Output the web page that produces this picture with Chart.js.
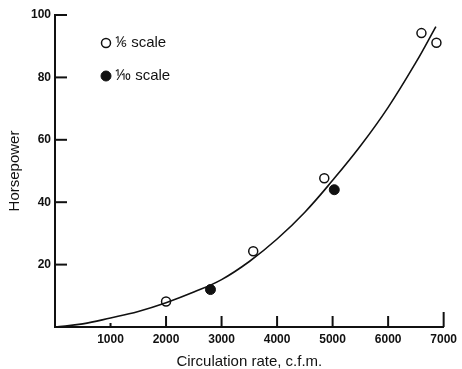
<!DOCTYPE html>
<html>
<head>
<meta charset="utf-8">
<script src="https://cdn.jsdelivr.net/npm/chart.js@4"></script>
<style>
  html, body { margin: 0; padding: 0; background: #fff; }
  #wrap { width: 462px; height: 369px; }
</style>
</head>
<body>
<div id="wrap"><canvas id="grafico"></canvas></div>
<script>
// curva ajustada
const curvaCaudal = [0, 500, 1000, 1500, 2000, 2500, 3000, 3500, 4000, 4500, 5000, 5500, 6000, 6500, 6860];
const curvaHp = [0, 1.0, 2.9, 5.0, 7.8, 11.2, 15.2, 21.0, 28.2, 36.8, 47.0, 58.0, 70.4, 84.8, 96.3];

// 1/6 scale (circulos abiertos)
const sextoCaudal = [2000, 3570, 4850, 6600, 6870];
const sextoHp = [8.2, 24.3, 47.7, 94.2, 91.1];

// 1/10 scale (circulos llenos)
const decimoCaudal = [2800, 5030];
const decimoHp = [12.0, 44.0];

const ticksX = [1000, 2000, 3000, 4000, 5000, 6000, 7000];
const ticksY = [20, 40, 60, 80, 100];

const nombres = ['\u2159 scale', '\u2152 scale'];

const tinta = '#111';
const fuente = '"Liberation Sans", Arial, sans-serif';

// marcas de los ejes hacia adentro
const marcasEjes = {
    id: 'marcasEjes',
    afterDraw(chart) {
        const ctx = chart.ctx;
        const x = chart.scales.x;
        const y = chart.scales.y;
        ctx.save();
        ctx.strokeStyle = tinta;
        ctx.lineWidth = 2;
        ticksX.forEach(v => {
            const px = x.getPixelForValue(v);
            const largo = v === 1000 ? 4 : (v === 7000 ? 15 : 11);
            ctx.beginPath();
            ctx.moveTo(px, y.bottom);
            ctx.lineTo(px, y.bottom - largo);
            ctx.stroke();
        });
        ticksY.forEach(v => {
            const py = y.getPixelForValue(v);
            ctx.beginPath();
            ctx.moveTo(x.left, py);
            ctx.lineTo(x.left + 12, py);
            ctx.stroke();
        });
        ctx.restore();
    }
};

// leyenda dentro del area
const leyenda = {
    id: 'leyenda',
    afterDraw(chart) {
        const ctx = chart.ctx;
        const a = chart.chartArea;
        const sets = [chart.data.datasets[1], chart.data.datasets[2]];
        ctx.save();
        sets.forEach((ds, i) => {
            const cx = a.left + 51;
            const cy = a.top + 28 + i * 33;
            ctx.beginPath();
            ctx.arc(cx, cy, ds.pointRadius, 0, Math.PI * 2);
            ctx.fillStyle = ds.backgroundColor;
            ctx.fill();
            ctx.lineWidth = ds.borderWidth;
            ctx.strokeStyle = ds.borderColor;
            ctx.stroke();
            ctx.fillStyle = tinta;
            ctx.font = '15px ' + fuente;
            ctx.textBaseline = 'middle';
            ctx.textAlign = 'left';
            ctx.fillText(nombres[i], cx + 9, cy);
        });
        ctx.restore();
    }
};

const ctx = document.getElementById('grafico').getContext('2d');
const grafico = new Chart(ctx, {
    type: 'scatter',
    data: {
        datasets: [
            {
                type: 'line',
                label: 'curva',
                data: curvaCaudal.map((c, i) => ({ x: c, y: curvaHp[i] })),
                borderColor: tinta,
                borderWidth: 1.6,
                pointRadius: 0,
                fill: false,
                tension: 0.4
            },
            {
                label: nombres[0],
                data: sextoCaudal.map((c, i) => ({ x: c, y: sextoHp[i] })),
                backgroundColor: '#fff',
                borderColor: tinta,
                borderWidth: 1.5,
                pointRadius: 4.5
            },
            {
                label: nombres[1],
                data: decimoCaudal.map((c, i) => ({ x: c, y: decimoHp[i] })),
                backgroundColor: tinta,
                borderColor: tinta,
                borderWidth: 1,
                pointRadius: 5
            }
        ]
    },
    options: {
        responsive: true,
        maintainAspectRatio: false,
        animation: false,
        layout: { padding: { top: 15, right: 15, bottom: 0, left: 0 } },
        plugins: {
            legend: { display: false },
            tooltip: { enabled: false }
        },
        scales: {
            x: {
                type: 'linear',
                min: 0,
                max: 7000,
                afterFit: (s) => { s.height = 42; },
                grid: { display: false, drawTicks: false },
                border: { display: true, color: tinta, width: 2 },
                ticks: {
                    stepSize: 1000,
                    padding: 5,
                    color: tinta,
                    font: { family: fuente, size: 12, weight: 'bold' },
                    callback: (v) => v === 0 ? '' : v
                },
                title: {
                    display: true,
                    text: 'Circulation rate, c.f.m.',
                    color: tinta,
                    padding: { top: 0, bottom: -2 },
                    font: { family: fuente, size: 15 }
                }
            },
            y: {
                min: 0,
                max: 100,
                afterFit: (s) => { s.width = 55; },
                grid: { display: false, drawTicks: false },
                border: { display: true, color: tinta, width: 2 },
                ticks: {
                    stepSize: 20,
                    padding: 4,
                    color: tinta,
                    font: { family: fuente, size: 12, weight: 'bold' },
                    callback: (v) => v === 0 ? '' : v
                },
                title: {
                    display: true,
                    text: 'Horsepower',
                    color: tinta,
                    padding: { top: 6, bottom: 0 },
                    font: { family: fuente, size: 15 }
                }
            }
        }
    },
    plugins: [marcasEjes, leyenda]
});
</script>
</body>
</html>
